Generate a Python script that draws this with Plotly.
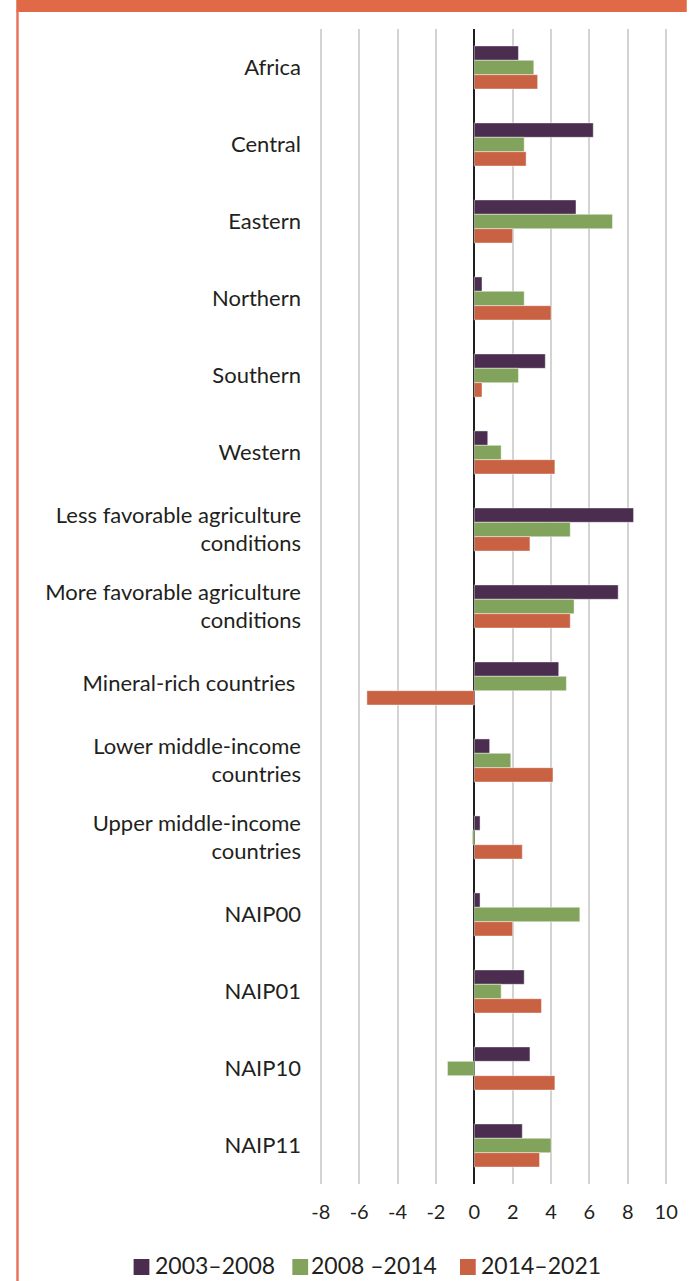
import plotly.graph_objects as go

# Regions and country groupings (top to bottom)
categories = [
    "Africa", "Central", "Eastern", "Northern", "Southern", "Western",
    "Less favorable agriculture<br>conditions",
    "More favorable agriculture<br>conditions",
    "Mineral-rich countries ",
    "Lower middle-income<br>countries",
    "Upper middle-income<br>countries",
    "NAIP00", "NAIP01", "NAIP10", "NAIP11",
]

period_labels = ["2003–2008", "2008 –2014", "2014–2021"]

values_2003_2008 = [2.3, 6.2, 5.3, 0.4, 3.7, 0.7, 8.3, 7.5, 4.4, 0.8, 0.3, 0.3, 2.6, 2.9, 2.5]
values_2008_2014 = [3.1, 2.6, 7.2, 2.6, 2.3, 1.4, 5.0, 5.2, 4.8, 1.9, -0.1, 5.5, 1.4, -1.4, 4.0]
values_2014_2021 = [3.3, 2.7, 2.0, 4.0, 0.4, 4.2, 2.9, 5.0, -5.6, 4.1, 2.5, 2.0, 3.5, 4.2, 3.4]

x_ticks = [-8, -6, -4, -2, 0, 2, 4, 6, 8, 10]

colors = ["#4B2D50", "#82A35B", "#C96143"]
series = [values_2003_2008, values_2008_2014, values_2014_2021]

W, H = 690, 1281
L, R, T, B = 317, 15, 29, 97
plot_w = W - L - R
plot_h = H - T - B

FONT = "Lato, Roboto, sans-serif"
TEXT = "#231F20"

fig = go.Figure()
for name, vals, col in zip(period_labels, series, colors):
    fig.add_trace(go.Bar(
        y=categories, x=vals, name=name, orientation="h",
        marker=dict(color=col, line=dict(color="rgba(255,255,255,0.55)", width=0.8)),
        showlegend=False,
    ))


def px_x(px):
    return (px - L) / plot_w


def px_y(py):
    return (H - B - py) / plot_h


shapes = [
    # frame accents
    dict(type="rect", xref="paper", yref="paper", x0=px_x(12), x1=px_x(W + 2),
         y0=px_y(12), y1=px_y(-2), fillcolor="#E06A48", line=dict(width=0), layer="above"),
    dict(type="rect", xref="paper", yref="paper", x0=px_x(12), x1=px_x(14.5),
         y0=px_y(H + 2), y1=px_y(10), fillcolor="#E8735A", line=dict(width=0), layer="above"),
]

annotations = []
legend_items = [(131, 151), (292, 309), (462, 481)]
for (sq_x, tx_x), name, col in zip(legend_items, period_labels, colors):
    shapes.append(dict(type="rect", xref="paper", yref="paper",
                       x0=px_x(sq_x), x1=px_x(sq_x + 16),
                       y0=px_y(1275), y1=px_y(1259),
                       fillcolor=col, line=dict(width=0)))
    annotations.append(dict(xref="paper", yref="paper", x=px_x(tx_x), y=px_y(1265),
                            xanchor="left", yanchor="middle", text=name, showarrow=False,
                            font=dict(family=FONT, size=23, color=TEXT)))

fig.update_layout(
    width=W, height=H,
    margin=dict(l=L, r=R, t=T, b=B, pad=0),
    paper_bgcolor="white", plot_bgcolor="white",
    barmode="group", bargap=0.44, bargroupgap=0,
    font=dict(family=FONT, color=TEXT),
    shapes=shapes, annotations=annotations,
    xaxis=dict(
        range=[-8.2, 10.2], tickvals=x_ticks, ticktext=[str(v) for v in x_ticks],
        showgrid=True, gridcolor="#D3D3D3", gridwidth=1.8,
        zeroline=True, zerolinecolor="#1E1E1E", zerolinewidth=2,
        showline=False, ticks="", ticklabelstandoff=14,
        tickfont=dict(family=FONT, size=20, color=TEXT),
        fixedrange=True,
    ),
    yaxis=dict(
        autorange="reversed", showgrid=False, showline=False, ticks="",
        ticklabelstandoff=15, automargin=False,
        tickfont=dict(family=FONT, size=22, color=TEXT),
        fixedrange=True,
    ),
)

fig.write_html("out.html")
